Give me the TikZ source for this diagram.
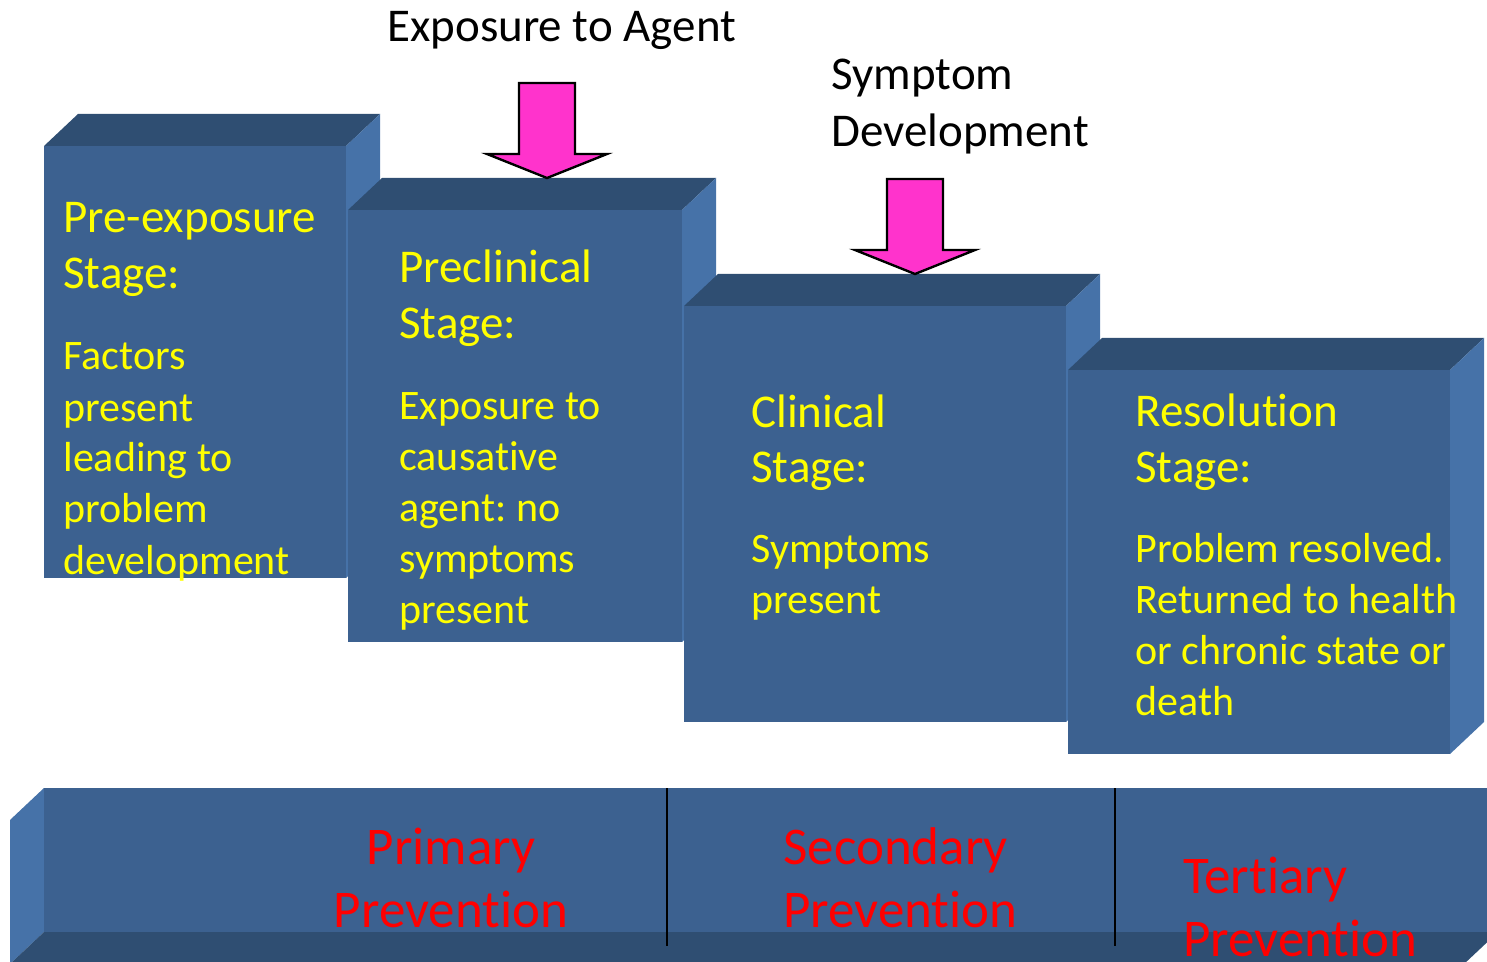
\documentclass[tikz,border=0pt]{standalone}
\usepackage{fontspec}
\setmainfont{Carlito}[Ligatures={NoCommon}]
\frenchspacing
\definecolor{frontc}{HTML}{3C6190}
\definecolor{topc}{HTML}{2F4E72}
\definecolor{sidec}{HTML}{4672A8}
\definecolor{pinkc}{HTML}{FF33CC}
\definecolor{yelc}{HTML}{FFFF00}
\definecolor{redc}{HTML}{FF0000}
\newcommand\stagecube[4]{%
  \fill[topc] (#1,#2) -- ++(34,-32) -- (#3+34,#2-32) -- (#3,#2) -- cycle;
  \fill[sidec] (#3,#2) -- (#3+34,#2-32) -- (#3+34,#4-32) -- (#3,#4) -- cycle;
  \fill[frontc] (#1,#2) rectangle (#3,#4);
}
\begin{document}
\begin{tikzpicture}[x=0.5pt,y=-0.5pt,
  ttl/.style={anchor=base west,inner sep=0pt,text=yelc,font=\fontsize{23.5}{28}\selectfont},
  body/.style={anchor=base west,inner sep=0pt,text=yelc,font=\fontsize{21}{25.5}\selectfont},
  lbl/.style={anchor=base west,inner sep=0pt,text=black,font=\fontsize{23.5}{28.5}\selectfont},
  prev/.style={anchor=base west,inner sep=0pt,text=redc,font=\fontsize{26.5}{31.5}\selectfont},
  pinkarrow/.style={fill=pinkc,draw=black,line width=1.2pt,line join=miter},
  divider/.style={draw=black,line width=1.2pt}]
\useasboundingbox (0,0) rectangle (1487,962);
% stage boxes
\stagecube{44}{146}{346}{578}
\stagecube{348}{210}{682}{642}
\stagecube{684}{306}{1066}{722}
\stagecube{1068}{370}{1450}{754}
% prevention bar
\fill[sidec] (44,788) -- (10,820) -- (10,964) -- (44,932) -- cycle;
\fill[frontc] (44,788) rectangle (1500,932);
\fill[topc] (44,932) -- (1498,932) -- (1464,964) -- (10,964) -- cycle;
\draw[divider] (667,788) -- (667,946);
\draw[divider] (1115,788) -- (1115,946);
% arrows
\draw[pinkarrow] (519,83) -- (575,83) -- (575,154) -- (607,154) -- (547,178) -- (487,154) -- (519,154) -- cycle;
\draw[pinkarrow] (887,179) -- (943,179) -- (943,250) -- (975,250) -- (915,274) -- (855,250) -- (887,250) -- cycle;
% top labels
\node[lbl] (expo) at (387,42) {Exposure to Agent};
\node[lbl] (symp) at (831,90) {\begin{tabular}[t]{@{}l@{}}Symptom\\Development\end{tabular}};
% stage texts
\node[ttl] (t1) at (63,233) {\begin{tabular}[t]{@{}l@{}}Pre-exposure\\Stage:\end{tabular}};
\node[body] (b1) at (63,370) {\begin{tabular}[t]{@{}l@{}}Factors\\present\\leading to\\problem\\development\end{tabular}};
\node[ttl] (t2) at (399,283) {\begin{tabular}[t]{@{}l@{}}Preclinical\\Stage:\end{tabular}};
\node[body] (b2) at (399,419) {\begin{tabular}[t]{@{}l@{}}Exposure to\\causative\\agent: no\\symptoms\\present\end{tabular}};
\node[ttl] (t3) at (751,427) {\begin{tabular}[t]{@{}l@{}}Clinical\\Stage:\end{tabular}};
\node[body] (b3) at (751,562) {\begin{tabular}[t]{@{}l@{}}Symptoms\\present\end{tabular}};
\node[ttl] (t4) at (1135,426) {\begin{tabular}[t]{@{}l@{}}Resolution\\Stage:\end{tabular}};
\node[body] (b4) at (1135,562) {\begin{tabular}[t]{@{}l@{}}Problem resolved.\\Returned to health\\or chronic state or\\death\end{tabular}};
% prevention texts
\node[prev,anchor=base] (p1) at (451,864) {\begin{tabular}[t]{@{}c@{}}Primary\\Prevention\end{tabular}};
\node[prev] (p2) at (783,864) {\begin{tabular}[t]{@{}l@{}}Secondary\\Prevention\end{tabular}};
\node[prev] (p3) at (1183,893) {\begin{tabular}[t]{@{}l@{}}Tertiary\\Prevention\end{tabular}};
\end{tikzpicture}
\end{document}
